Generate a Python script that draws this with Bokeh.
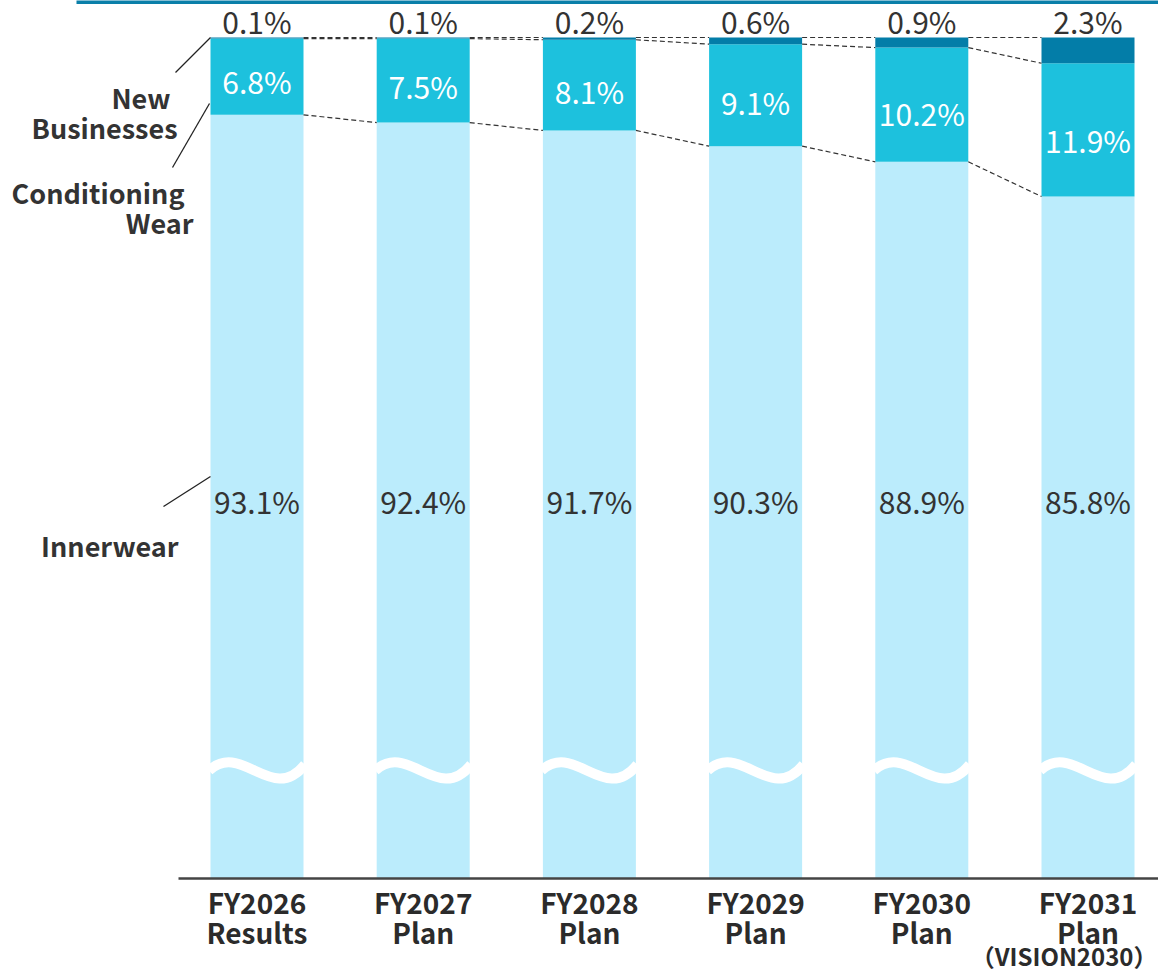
from bokeh.plotting import figure
from bokeh.models import ColumnDataSource, Range1d
from bokeh.core.properties import value
from bokeh.embed import file_html
from bokeh.resources import INLINE

# ---------------- data ----------------
categories = ["FY2026\nResults", "FY2027\nPlan", "FY2028\nPlan",
              "FY2029\nPlan", "FY2030\nPlan", "FY2031\nPlan"]
category_note = "（VISION2030）"
innerwear = [93.1, 92.4, 91.7, 90.3, 88.9, 85.8]
conditioning = [6.8, 7.5, 8.1, 9.1, 10.2, 11.9]
new_businesses = [0.1, 0.1, 0.2, 0.6, 0.9, 2.3]
series_lines = [["New", "Businesses"], ["Conditioning", "Wear"], ["Innerwear"]]

# ---------------- layout ----------------
W, H = 1158, 974
PX_X = 166.2                  # px per category
PX_Y = 11.2                   # px per percent
CENTER0 = 256.5               # px of first bar centre
TOP100 = 37                   # px of the 100% line
BASE_PX = 878                 # px of the (broken) baseline
BAR_W = 93 / PX_X

x_start = -CENTER0 / PX_X
x_end = (W - CENTER0) / PX_X
y_end = 100 + TOP100 / PX_Y
y_start = y_end - H / PX_Y


def fx(px):
    return (px - CENTER0) / PX_X


def fy(py):
    return y_end - py / PX_Y


BASE = fy(BASE_PX)

FONT = "Noto Sans CJK JP"
C_INNER = "#BBECFC"
C_COND = "#1DC1DD"
C_NEW = "#037DA8"
TXT = "#333333"


def shift(size):
    # offset (px) between the anchor and the rendered alphabetic baseline
    return 0.5 * size


p = figure(width=W, height=H, output_backend="svg", toolbar_location=None,
           x_range=Range1d(x_start, x_end), y_range=Range1d(y_start, y_end),
           x_axis_location=None, y_axis_location=None,
           min_border_left=0, min_border_right=0,
           min_border_top=0, min_border_bottom=0)
p.outline_line_color = None
p.xgrid.visible = False
p.ygrid.visible = False
p.background_fill_color = "white"

xs = list(range(len(categories)))
cond_top = [a + b for a, b in zip(innerwear, conditioning)]
total = [a + b + c for a, b, c in zip(innerwear, conditioning, new_businesses)]
src = ColumnDataSource(dict(
    x=xs, inner=innerwear, cond_top=cond_top, total=total,
    inner_lbl=[f"{v:.1f}%" for v in innerwear],
    cond_lbl=[f"{v:.1f}%" for v in conditioning],
    new_lbl=[f"{v:.1f}%" for v in new_businesses],
    new_y=[t + (2 + shift(30)) / PX_Y for t in total],
    cond_y=[a + 0.4 * b + (shift(30) - 11.7) / PX_Y
            for a, b in zip(innerwear, conditioning)]))

# stacked bars (axis broken: innerwear starts at the baseline)
p.vbar(x="x", width=BAR_W, bottom=BASE, top="inner", source=src,
       fill_color=C_INNER, line_color=None)
p.vbar(x="x", width=BAR_W, bottom="inner", top="cond_top", source=src,
       fill_color=C_COND, line_color=None)
p.vbar(x="x", width=BAR_W, bottom="cond_top", top="total", source=src,
       fill_color=C_NEW, line_color=None)

# dashed connectors between bars
sx0, sx1, sy0, sy1 = [], [], [], []
for i in range(len(xs) - 1):
    for lev in (total, cond_top, innerwear):
        sx0.append(xs[i] + BAR_W / 2)
        sx1.append(xs[i + 1] - BAR_W / 2)
        sy0.append(lev[i])
        sy1.append(lev[i + 1])
p.segment(sx0, sy0, sx1, sy1, line_color="#333333", line_width=1.2,
          line_dash="5 3")

# axis-break waves
for i in xs:
    p.bezier(x0=[i + (-48) / PX_X], y0=[fy(770)],
             x1=[i + 48 / PX_X], y1=[fy(764)],
             cx0=[i + (-15) / PX_X], cy0=[fy(740)],
             cx1=[i + 15 / PX_X], cy1=[fy(805)],
             line_color="white", line_width=10)

# baseline
p.segment(x0=[fx(178)], y0=[BASE], x1=[x_end + 1], y1=[BASE],
          line_color="#444444", line_width=2.5)

# value labels
p.text(x="x", y="new_y", text="new_lbl", source=src, text_align="center",
       text_baseline="alphabetic", text_color=TXT,
       text_font=value(FONT), text_font_size="30px")
p.text(x="x", y="cond_y", text="cond_lbl", source=src, text_align="center",
       text_baseline="alphabetic", text_color="white",
       text_font=value(FONT), text_font_size="30px")
p.text(x="x", y=fy(515 - shift(30)), text="inner_lbl", source=src,
       text_align="center", text_baseline="alphabetic", text_color=TXT,
       text_font=value(FONT), text_font_size="30px")

# category labels under the baseline
cat_lines = [c.split("\n") for c in categories]
for k, base_px in enumerate((915, 945)):
    p.text(x=xs, y=[fy(base_px - shift(28))] * len(xs),
           text=[cl[k] for cl in cat_lines], text_align="center",
           text_baseline="alphabetic", text_color="#2b2b2b",
           text_font=value(FONT), text_font_size="28px",
           text_font_style="bold")
p.text(x=[fx(1157)], y=[fy(967 - shift(24))], text=[category_note],
       text_align="right", text_baseline="alphabetic", text_color="#2b2b2b",
       text_font=value(FONT), text_font_size="24px", text_font_style="bold")

# series labels on the left (one text per visual line)
label_pos = [[(170, 110), (177, 140)], [(184, 205), (193, 235)], [(178, 558)]]
for lines, poss in zip(series_lines, label_pos):
    for t, (lx, ly) in zip(lines, poss):
        p.text(x=[fx(lx)], y=[fy(ly - shift(27))], text=[t],
               text_align="right", text_baseline="alphabetic",
               text_color=TXT, text_font=value(FONT), text_font_size="27px",
               text_font_style="bold")

# leader lines
p.segment(x0=[fx(210), fx(209), fx(210)], y0=[fy(37), fy(103), fy(476)],
          x1=[fx(175), fx(172), fx(163)], y1=[fy(72), fy(167), fy(506)],
          line_color="#222222", line_width=1.3)

# top decorative rule
p.quad(left=[fx(76)], right=[x_end + 1], bottom=[fy(3.5)], top=[y_end + 1],
       fill_color="#0A7FA9", line_color=None)

open("out.html", "w").write(file_html(p, INLINE))
